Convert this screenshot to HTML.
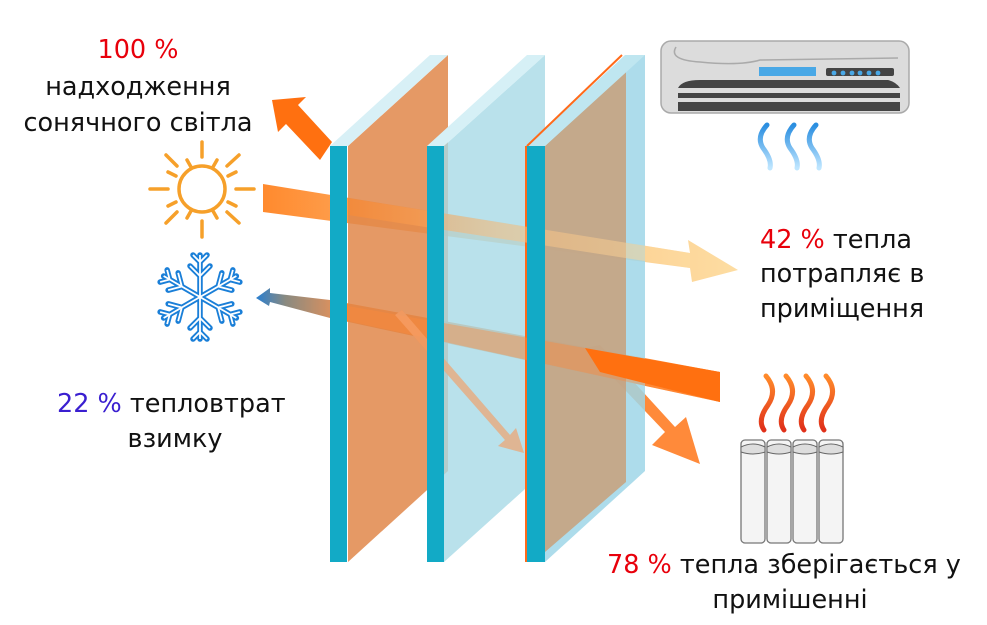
<!DOCTYPE html>
<html><head><meta charset="utf-8"><style>
body{margin:0;background:#fff;width:987px;height:625px;overflow:hidden}
svg{display:block}
text{font-family:"DejaVu Sans","Liberation Sans",sans-serif;font-size:25.5px;fill:#111}
.r{fill:#e8000b}.b{fill:#3a1fd0}
</style></head><body>
<svg width="987" height="625" viewBox="0 0 987 625">
<defs>
<linearGradient id="warm" x1="0" x2="1"><stop offset="0" stop-color="#ff8a2e"/><stop offset="0.45" stop-color="#fdc080"/><stop offset="1" stop-color="#fddda2"/></linearGradient>
<linearGradient id="cold" x1="0" x2="1"><stop offset="0" stop-color="#2a7fd0"/><stop offset="0.4" stop-color="#8a8a80"/><stop offset="1" stop-color="#d69060"/></linearGradient>
<linearGradient id="ac" x1="0" y1="0" x2="0" y2="1"><stop offset="0" stop-color="#2a8ee0"/><stop offset="1" stop-color="#bfe6ff"/></linearGradient>
<linearGradient id="heat" x1="0" y1="0" x2="0" y2="1"><stop offset="0" stop-color="#ff8a2a"/><stop offset="1" stop-color="#e0301a"/></linearGradient>
</defs>
<text x="138" y="58" text-anchor="middle" class="r">100 %</text>
<text x="138" y="95" text-anchor="middle">надходження</text>
<text x="138" y="131" text-anchor="middle">сонячного світла</text>
<text x="760" y="248"><tspan class="r">42 %</tspan> тепла</text>
<text x="760" y="282">потрапляє в</text>
<text x="760" y="317">приміщення</text>
<text x="57" y="412"><tspan class="b">22 %</tspan> тепловтрат</text>
<text x="175" y="447" text-anchor="middle">взимку</text>
<text x="607" y="573"><tspan class="r">78 %</tspan> тепла зберігається у</text>
<text x="790" y="608" text-anchor="middle">примішенні</text>
<g stroke="#f6a02a" stroke-width="3.5" fill="none" stroke-linecap="round">
<circle cx="202" cy="189" r="23"/>
<line x1="202" y1="142" x2="202" y2="157"/><line x1="202" y1="221" x2="202" y2="237"/>
<line x1="150" y1="189" x2="168" y2="189"/><line x1="236" y1="189" x2="254" y2="189"/>
<line x1="166" y1="155" x2="177" y2="166"/><line x1="227" y1="212" x2="239" y2="223"/>
<line x1="166" y1="223" x2="177" y2="212"/><line x1="227" y1="166" x2="239" y2="155"/>
<line x1="187" y1="160" x2="191" y2="167"/><line x1="213" y1="211" x2="217" y2="218"/>
<line x1="176" y1="176" x2="168" y2="172"/><line x1="228" y1="202" x2="236" y2="206"/>
<line x1="213" y1="167" x2="217" y2="160"/><line x1="187" y1="218" x2="191" y2="211"/>
<line x1="168" y1="206" x2="176" y2="202"/><line x1="228" y1="176" x2="236" y2="172"/>
</g>
<g stroke="#1a7fd8" stroke-width="5.5" fill="none" stroke-linecap="round">
<g id="arm"><line x1="200" y1="297" x2="200" y2="255"/><polyline points="190,266 200,276 210,266"/><polyline points="193,255 200,262 207,255"/></g>
<use href="#arm" transform="rotate(60 200 297)"/><use href="#arm" transform="rotate(120 200 297)"/>
<use href="#arm" transform="rotate(180 200 297)"/><use href="#arm" transform="rotate(240 200 297)"/><use href="#arm" transform="rotate(300 200 297)"/>
</g>
<g stroke="#fff" stroke-width="1.8" fill="none">
<g id="arm2"><line x1="200" y1="297" x2="200" y2="255"/><polyline points="190,266 200,276 210,266"/><polyline points="193,255 200,262 207,255"/></g>
<use href="#arm2" transform="rotate(60 200 297)"/><use href="#arm2" transform="rotate(120 200 297)"/>
<use href="#arm2" transform="rotate(180 200 297)"/><use href="#arm2" transform="rotate(240 200 297)"/><use href="#arm2" transform="rotate(300 200 297)"/>
</g>
<rect x="661" y="41" width="248" height="72" rx="10" fill="#dcdcdc" stroke="#aaa" stroke-width="1.5"/>
<path d="M676 47 Q668 60 700 62 Q740 66 760 60 L898 58" fill="none" stroke="#aaa" stroke-width="1.5"/>
<rect x="759" y="67" width="57" height="9" fill="#49a8e6"/>
<rect x="826" y="68" width="68" height="8" rx="2" fill="#444"/>
<g fill="#49a8e6"><circle cx="834" cy="73" r="2.4"/><circle cx="843" cy="73" r="2.4"/><circle cx="852" cy="73" r="2.4"/><circle cx="860" cy="73" r="2.4"/><circle cx="869" cy="73" r="2.4"/><circle cx="878" cy="73" r="2.4"/></g>
<path d="M678 88 Q682 80 700 80 L888 80 Q896 82 900 88 Z" fill="#444"/>
<rect x="678" y="93" width="222" height="5" fill="#444"/>
<rect x="678" y="102" width="222" height="9" fill="#444"/>
<g fill="none" stroke="url(#ac)" stroke-width="5" stroke-linecap="round">
<path d="M767 125 Q756 137 763 148 Q772 160 770 168"/>
<path d="M794 125 Q783 137 790 148 Q799 160 797 168"/>
<path d="M816 125 Q805 137 812 148 Q821 160 819 168"/>
</g>
<g fill="none" stroke="url(#heat)" stroke-width="5" stroke-linecap="round">
<path d="M766 376 Q778 390 768 405 Q757 420 764 430"/>
<path d="M786 376 Q798 390 788 405 Q777 420 784 430"/>
<path d="M806 376 Q818 390 808 405 Q797 420 804 430"/>
<path d="M826 376 Q838 390 828 405 Q817 420 824 430"/>
</g>
<g fill="#f4f4f4" stroke="#777" stroke-width="1.3">
<rect x="741" y="440" width="24" height="103" rx="4"/><rect x="767" y="440" width="24" height="103" rx="4"/>
<rect x="793" y="440" width="24" height="103" rx="4"/><rect x="819" y="440" width="24" height="103" rx="4"/>
</g>
<g fill="#ddd" stroke="#666" stroke-width="1"><path d="M741 447 Q753 441 765 447 L765 452 Q753 456 741 452Z"/><path d="M767 447 Q779 441 791 447 L791 452 Q779 456 767 452Z"/><path d="M793 447 Q805 441 817 447 L817 452 Q805 456 793 452Z"/><path d="M819 447 Q831 441 843 447 L843 452 Q831 456 819 452Z"/></g>
<polygon points="263,184 690,253 688,240 738,270 692,282 690,268 263,212" fill="url(#warm)"/>
<polygon points="330,300 720,372 720,402 330,318" fill="#ff7a1c" opacity="0.9"/>
<polygon points="330,300 270,293 270,288 256,298 269,306 270,302 330,318" fill="url(#cold)"/>
<polygon points="395,315 505,440 498,446 524,453 516,428 510,435 402,310" fill="#f9a46c"/>
<polygon points="585,348 665,432 652,445 700,464 686,417 675,427 600,345" fill="#ff8a3a"/>
<polygon points="332,142 298,105 306,97 272,100 278,132 286,124 320,160" fill="#ff7010"/>
<polygon points="348,146 448,55 448,471 348,562" fill="#e0874a" opacity="0.85"/>
<polygon points="330,146 430,55 448,55 348,146" fill="#d8f0f6"/>
<rect x="330" y="146" width="17" height="416" fill="#12aac6"/>
<polygon points="444,146 545,55 545,471 444,562" fill="#a8d9e6" opacity="0.8"/>
<polygon points="427,146 527,55 545,55 444,146" fill="#d6f0f6"/>
<rect x="427" y="146" width="17" height="416" fill="#12aac6"/>
<polygon points="545,146 641,55 645,55 645,471 545,562" fill="#9fd6e8" opacity="0.85"/>
<polygon points="545,146 626,72 626,482 545,552" fill="#c8a07a" opacity="0.85"/>
<polygon points="527,146 625,55 645,55 545,146" fill="#bfe6f0"/>
<line x1="527" y1="146" x2="622" y2="55" stroke="#ff6a1a" stroke-width="2"/>
<line x1="526" y1="146" x2="526" y2="562" stroke="#ff6a1a" stroke-width="2"/>
<polygon points="348,198 690,253 690,268 348,215" fill="url(#warm)" opacity="0.5"/>
<polygon points="348,306 720,372 720,402 348,321" fill="#ff8a3a" opacity="0.4"/>
<polygon points="585,348 720,372 720,402 600,372" fill="#ff7010"/>
<polygon points="395,315 505,440 498,446 524,453 516,428 510,435 402,310" fill="#f9a46c" opacity="0.6"/>
<rect x="330" y="146" width="17" height="416" fill="#12aac6"/>
<rect x="427" y="146" width="17" height="416" fill="#12aac6"/>
<rect x="527" y="146" width="18" height="416" fill="#12aac6"/>
</svg>
</body></html>
